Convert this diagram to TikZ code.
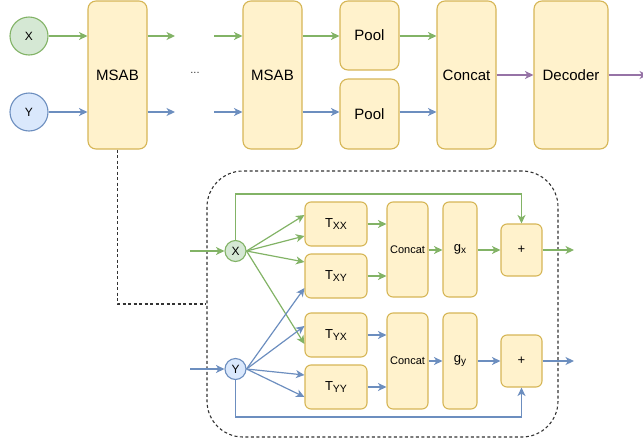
\documentclass[tikz,border=0pt]{standalone}
\usepackage{fontspec}
\setmainfont{Liberation Sans}
\usetikzlibrary{arrows.meta,calc}
\definecolor{gfill}{HTML}{D5E8D4}
\definecolor{gline}{HTML}{82B366}
\definecolor{bfill}{HTML}{DAE8FC}
\definecolor{bline}{HTML}{6C8EBF}
\definecolor{yfill}{HTML}{FFF2CC}
\definecolor{yline}{HTML}{D6B656}
\definecolor{pline}{HTML}{9673A6}
\definecolor{dline}{HTML}{333333}
\newcommand{\fs}[1]{\fontsize{#1}{#1}\selectfont}
\newcommand{\Tsub}[1]{T\raisebox{-1.2pt}{\fs{10.5}#1}}
\tikzset{
  ybox/.style={draw=yline,fill=yfill,line width=1.1pt,rounded corners=8pt,inner sep=0pt,font=\fs{15}},
  sbox/.style={ybox,rounded corners=6pt,font=\fs{13}},
  gcirc/.style={circle,draw=gline,fill=gfill,line width=1.1pt,inner sep=0pt,font=\fs{12}},
  bcirc/.style={circle,draw=bline,fill=bfill,line width=1.1pt,inner sep=0pt,font=\fs{12}},
  arr/.style={line width=1.2pt,-{Stealth[length=8.5pt,width=8pt,inset=2.5pt]}},
  garr/.style={arr,draw=gline,color=gline},
  barr/.style={arr,draw=bline,color=bline},
  parr/.style={arr,draw=pline,color=pline},
  dashline/.style={draw=dline,line width=1.1pt,dash pattern=on 3pt off 2.5pt},
}
\begin{document}
\begin{tikzpicture}[x=1pt,y=-1pt]
\useasboundingbox (0,0) rectangle (643,445);
% ---------- top row ----------
\node[gcirc,minimum size=38pt] (X) at (29,36) {X};
\node[bcirc,minimum size=38pt] (Y) at (29,112) {Y};
\node[ybox,minimum width=59pt,minimum height=148pt] (m1) at (117.5,75) {MSAB};
\node[ybox,minimum width=59pt,minimum height=148pt] (m2) at (272.5,75) {MSAB};
\node[ybox,minimum width=59pt,minimum height=69pt] (p1) at (369.5,35.5) {Pool};
\node[ybox,minimum width=59pt,minimum height=70pt] (p2) at (369.5,114) {Pool};
\node[ybox,minimum width=59pt,minimum height=148pt] (cc) at (466.5,75) {Concat};
\node[ybox,minimum width=74pt,minimum height=148pt] (dec) at (571,75) {Decoder};
\node[font=\fs{11},text=dline] (dots) at (195,73) {...};
\coordinate (o1) at (175,36);
\coordinate (o2) at (175,112);
\coordinate (i1) at (214,36);
\coordinate (i2) at (214,112);
\coordinate (out) at (648,75);
\draw[garr] (X.east) -- (X.east -| m1.west);
\draw[barr] (Y.east) -- (Y.east -| m1.west);
\draw[garr] (o1 -| m1.east) -- (o1);
\draw[barr] (o2 -| m1.east) -- (o2);
\draw[garr] (i1) -- (i1 -| m2.west);
\draw[barr] (i2) -- (i2 -| m2.west);
\draw[garr] (i1 -| m2.east) -- (i1 -| p1.west);
\draw[barr] (i2 -| m2.east) -- (i2 -| p2.west);
\draw[garr] (i1 -| p1.east) -- (i1 -| cc.west);
\draw[barr] (i2 -| p2.east) -- (i2 -| cc.west);
\draw[parr] (cc.east) -- (dec.west);
\draw[parr] (dec.east) -- (out);
% ---------- detail block ----------
\node[dashline,rounded corners=36pt,minimum width=351pt,minimum height=266pt] (blk) at (382.5,304) {};
\draw[dashline] (m1.south) |- (blk.west);
\node[gcirc,minimum size=21pt] (bx) at (235.5,251) {X};
\node[bcirc,minimum size=21pt] (by) at (235.5,369) {Y};
\node[sbox,minimum width=62pt,minimum height=44pt] (txx) at (336,224) {\Tsub{XX}};
\node[sbox,minimum width=62pt,minimum height=44pt] (txy) at (336,276) {\Tsub{XY}};
\node[sbox,minimum width=62pt,minimum height=44pt] (tyx) at (336,335) {\Tsub{YX}};
\node[sbox,minimum width=62pt,minimum height=44pt] (tyy) at (336,387) {\Tsub{YY}};
\node[sbox,minimum width=41pt,minimum height=95pt,font=\fs{11}] (cx) at (407.5,249.5) {Concat};
\node[sbox,minimum width=41pt,minimum height=96pt,font=\fs{11}] (cy) at (407.5,361) {Concat};
\node[sbox,minimum width=34pt,minimum height=95pt] (gx) at (460,249.5) {g\raisebox{-1.5pt}{\fs{10}x}};
\node[sbox,minimum width=34pt,minimum height=96pt] (gy) at (460,361) {g\raisebox{-1.5pt}{\fs{10}y}};
\node[sbox,minimum width=41pt,minimum height=52pt] (px) at (521.5,250) {+};
\node[sbox,minimum width=41pt,minimum height=52pt] (py) at (521.5,361) {+};
\coordinate (inx) at (190,251);
\coordinate (iny) at (190,369);
\coordinate (outx) at (574,250);
\coordinate (outy) at (574,361);
\coordinate (tx) at (235.5,194);
\coordinate (ty) at (235.5,417);
\draw[garr] (inx) -- (bx);
\draw[barr] (iny) -- (by);
% fan from X
\draw[garr] (bx.east) -- (txx.west |- 0,215);
\draw[garr] (bx.east) -- (txx.west |- 0,236);
\draw[garr] (bx.east) -- (txy.west |- 0,262);
\draw[garr] (bx.east) -- (tyx.west |- 0,344);
% fan from Y
\draw[barr] (by.east) -- (txy.west |- 0,288);
\draw[barr] (by.east) -- (tyx.west |- 0,326);
\draw[barr] (by.east) -- (tyy.west |- 0,375);
\draw[barr] (by.east) -- (tyy.west |- 0,397);
% T -> concat
\draw[garr] (txx.east) -- (txx.east -| cx.west);
\draw[garr] (txy.east) -- (txy.east -| cx.west);
\draw[barr] (tyx.east) -- (tyx.east -| cy.west);
\draw[barr] (tyy.east) -- (tyy.east -| cy.west);
% concat -> g -> +
\draw[garr] (cx.east |- px) -- (gx.west |- px);
\draw[garr] (gx.east |- px) -- (px.west);
\draw[barr] (cy.east |- py) -- (gy.west |- py);
\draw[barr] (gy.east |- py) -- (py.west);
\draw[garr] (px.east) -- (outx);
\draw[barr] (py.east) -- (outy);
% skips
\draw[garr] (bx.north) -- (tx) -| (px.north);
\draw[barr] (by.south) -- (ty) -| (py.south);
\end{tikzpicture}
\end{document}
